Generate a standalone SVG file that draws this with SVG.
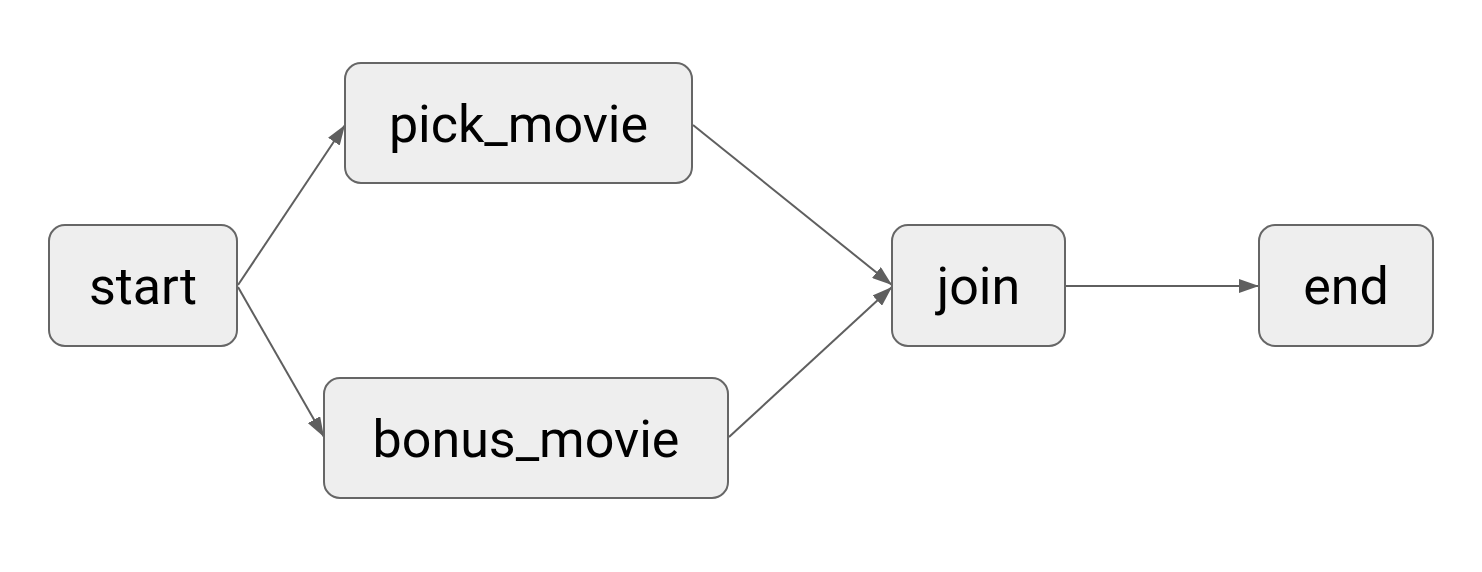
<svg xmlns="http://www.w3.org/2000/svg" width="1482" height="572" viewBox="0 0 1482 572">
<style>
.node rect{fill:#eeeeee;stroke:#666666;stroke-width:2}
.node text{font-family:Roboto,"Liberation Sans",sans-serif;font-size:52px;fill:#000;text-anchor:middle}
.edge{stroke:#5f5f5f;stroke-width:2;fill:none;marker-end:url(#arr)}
</style>
<defs>
<marker id="arr" viewBox="0 0 20 14" refX="20" refY="7" markerWidth="20" markerHeight="14" markerUnits="userSpaceOnUse" orient="auto">
<path d="M0,0 L20,7 L0,14 z" fill="#5f5f5f"/>
</marker>
</defs>
<rect width="1482" height="572" fill="#ffffff"/>
<g id="connectors">
<path class="edge" d="M238,285 L345,125"/>
<path class="edge" d="M238,287 L324,437"/>
<path class="edge" d="M693,125 L892,285"/>
<path class="edge" d="M729,437 L892,287"/>
<path class="edge" d="M1066,286 L1259,286"/>
</g>
<g id="start" class="node"><rect x="49" y="225" width="188" height="121" rx="16"/><text x="143" y="304">start</text></g>
<g id="pick_movie" class="node"><rect x="345" y="63" width="347" height="120" rx="16"/><text x="518.5" y="142">pick_movie</text></g>
<g id="bonus_movie" class="node"><rect x="324" y="378" width="404" height="120" rx="16"/><text x="526" y="457">bonus_movie</text></g>
<g id="join" class="node"><rect x="892" y="225" width="173" height="121" rx="16"/><text x="978.5" y="304">join</text></g>
<g id="end" class="node"><rect x="1259" y="225" width="174" height="121" rx="16"/><text x="1346" y="304">end</text></g>
</svg>
